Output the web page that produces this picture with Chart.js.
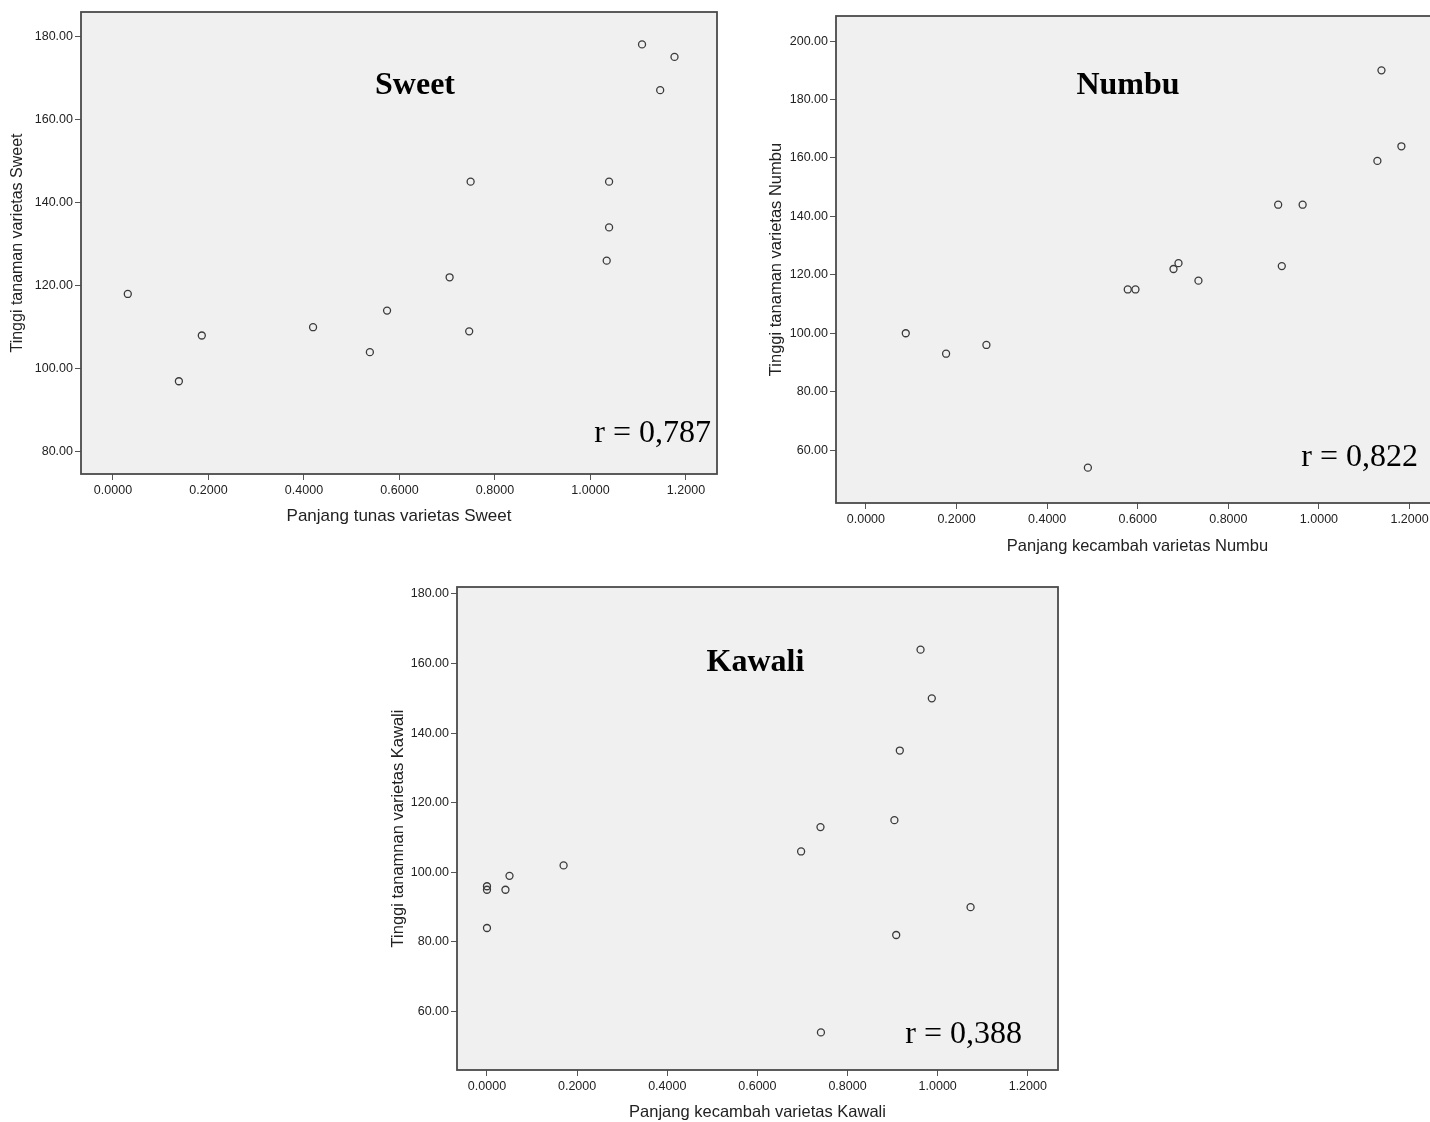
<!DOCTYPE html>
<html>
<head>
<meta charset="utf-8">
<script src="https://cdn.jsdelivr.net/npm/chart.js@4.4.1/dist/chart.umd.min.js"></script>
<style>
  html, body { margin:0; padding:0; background:#fff; width:1430px; height:1122px; overflow:hidden; position:relative; }
  canvas { position:absolute; }
</style>
</head>
<body>
<canvas id="cSweet"></canvas>
<canvas id="cNumbu"></canvas>
<canvas id="cKawali"></canvas>
<script>
// ── Data ───────────────────────────────────────────────────────────────────
const xTicks = [0, 0.2, 0.4, 0.6, 0.8, 1.0, 1.2];

// Sweet
const sweetX = [0.031, 0.138, 0.186, 0.419, 0.538, 0.574, 0.705, 0.746, 0.749, 1.039, 1.039, 1.034, 1.108, 1.176, 1.146];
const sweetY = [118, 97, 108, 110, 104, 114, 122, 109, 145, 145, 134, 126, 178, 175, 167];
const sweetYTicks = [80, 100, 120, 140, 160, 180];

// Numbu
const numbuX = [0.088, 0.177, 0.266, 0.490, 0.578, 0.595, 0.679, 0.690, 0.734, 0.910, 0.964, 0.918, 1.129, 1.182, 1.138];
const numbuY = [100, 93, 96, 54, 115, 115, 122, 124, 118, 144, 144, 123, 159, 164, 190];
const numbuYTicks = [60, 80, 100, 120, 140, 160, 180, 200];

// Kawali
const kawaliX = [0, 0, 0, 0.041, 0.050, 0.170, 0.962, 0.987, 0.916, 0.904, 0.740, 0.697, 1.073, 0.908, 0.741];
const kawaliY = [96, 95, 84, 95, 99, 102, 164, 150, 135, 115, 113, 106, 90, 82, 54];
const kawaliYTicks = [60, 80, 100, 120, 140, 160, 180];

// ── Style ──────────────────────────────────────────────────────────────────
const FRAME_BG = '#f0f0f0', FRAME_LINE = '#4a4a4a', INK = '#222', TICK = '#555';
const SANS = "'Liberation Sans', Arial, sans-serif";
const SERIF = "'Liberation Serif', 'Times New Roman', serif";
const Y_W = 78, X_H = 62, PAD_T = 6, PAD_R = 12;

// background + frame + in-plot texts
const framePlugin = {
  id: 'frame',
  beforeDraw(chart) {
    const {ctx, chartArea:a} = chart;
    ctx.save();
    ctx.fillStyle = FRAME_BG;
    ctx.fillRect(a.left, a.top, a.right - a.left, a.bottom - a.top);
    ctx.restore();
  },
  beforeDatasetsDraw(chart) {
    const {ctx, chartArea:a} = chart;
    ctx.save();
    ctx.strokeStyle = FRAME_LINE; ctx.lineWidth = 1.8;
    ctx.strokeRect(a.left, a.top, a.right - a.left, a.bottom - a.top);
    ctx.restore();
  },
  afterDatasetsDraw(chart, args, o) {
    const {ctx, chartArea:a} = chart;
    ctx.save();
    ctx.fillStyle = '#000';
    ctx.textBaseline = 'alphabetic';
    ctx.font = `bold 32px ${SERIF}`;
    ctx.textAlign = 'center';
    ctx.fillText(o.label, a.left + o.labelPos[0], a.top + o.labelPos[1]);
    ctx.font = `32px ${SERIF}`;
    ctx.textAlign = 'right';
    ctx.fillText(o.rText, a.left + o.rPos[0], a.top + o.rPos[1]);
    ctx.restore();
  }
};

// keep the plot frame exactly where the layout puts it
const noPad = sc => { sc.paddingTop = 0; sc.paddingBottom = 0; sc.paddingLeft = 0; sc.paddingRight = 0; };

function makeChart(id, c) {
  const el = document.getElementById(id);
  const left = c.frame.L - Y_W, top = c.frame.T - PAD_T;
  const w = c.frame.R - c.frame.L + Y_W + PAD_R;
  const h = c.frame.B - c.frame.T + PAD_T + X_H;
  el.style.left = left + 'px'; el.style.top = top + 'px';
  el.width = w; el.height = h;
  el.style.width = w + 'px'; el.style.height = h + 'px';
  const yPad = c.yTitleX - left - c.yTitleSize * 0.6;
  const xPad = (c.frame.B + X_H) - c.xTitleY - c.xTitleSize * 0.6;
  const pts = c.xs.map((x, i) => ({x, y: c.ys[i]}));

  return new Chart(el, {
    type: 'scatter',
    data: { datasets: [{ data: pts, pointRadius: 3.5, pointHoverRadius: 3.5,
      pointBorderWidth: 1.3, borderColor: '#3a3a3a', backgroundColor: 'rgba(0,0,0,0)' }] },
    options: {
      responsive: false, animation: false, devicePixelRatio: 1,
      layout: { padding: { top: PAD_T, right: PAD_R, bottom: 0, left: 0 } },
      plugins: {
        legend: { display: false }, tooltip: { enabled: false },
        frame: { label: c.label, labelPos: c.labelPos, rText: c.rText, rPos: c.rPos },
      },
      scales: {
        x: {
          type: 'linear', min: c.xRange[0], max: c.xRange[1],
          afterBuildTicks: sc => { sc.ticks = xTicks.map(v => ({value: v})); },
          afterFit: sc => { sc.height = X_H; noPad(sc); },
          grid: { drawOnChartArea: false, drawTicks: true, tickLength: 6, tickColor: TICK, tickWidth: 1 },
          border: { display: false },
          ticks: { autoSkip: false, maxRotation: 0, padding: 3, color: INK,
            font: { family: SANS, size: 12.5 }, callback: v => Number(v).toFixed(4) },
          title: { display: true, text: c.xTitle, color: INK,
            font: { family: SANS, size: c.xTitleSize }, padding: { top: 0, bottom: xPad } },
        },
        y: {
          type: 'linear', min: c.yRange[0], max: c.yRange[1],
          afterBuildTicks: sc => { sc.ticks = c.yTicks.map(v => ({value: v})); },
          afterFit: sc => { sc.width = Y_W; noPad(sc); },
          grid: { drawOnChartArea: false, drawTicks: true, tickLength: 6, tickColor: TICK, tickWidth: 1 },
          border: { display: false },
          ticks: { autoSkip: false, padding: 2, color: INK,
            font: { family: SANS, size: 12.5 }, callback: v => Number(v).toFixed(2) },
          title: { display: true, text: c.yTitle, color: INK,
            font: { family: SANS, size: c.yTitleSize }, padding: { top: yPad, bottom: 0 } },
        },
      },
    },
    plugins: [framePlugin],
  });
}

makeChart('cSweet', {
  frame: {L: 81, T: 12, R: 717, B: 474},
  xs: sweetX, ys: sweetY, yTicks: sweetYTicks,
  xRange: [-0.067, 1.265], yRange: [74.7, 185.8],
  xTitle: 'Panjang tunas varietas Sweet', yTitle: 'Tinggi tanaman varietas Sweet',
  xTitleSize: 17, yTitleSize: 16, yTitleX: 17.5, xTitleY: 516,
  label: 'Sweet', labelPos: [334, 81.5], rText: 'r = 0,787', rPos: [630, 430],
});

makeChart('cNumbu', {
  frame: {L: 836, T: 16, R: 1439, B: 503},
  xs: numbuX, ys: numbuY, yTicks: numbuYTicks,
  xRange: [-0.066, 1.265], yRange: [41.9, 208.6],
  xTitle: 'Panjang kecambah varietas Numbu', yTitle: 'Tinggi tanaman varietas Numbu',
  xTitleSize: 16.5, yTitleSize: 16.5, yTitleX: 776.7, xTitleY: 546,
  label: 'Numbu', labelPos: [292, 78], rText: 'r = 0,822', rPos: [582, 450],
});

makeChart('cKawali', {
  frame: {L: 457, T: 587, R: 1058, B: 1070},
  xs: kawaliX, ys: kawaliY, yTicks: kawaliYTicks,
  xRange: [-0.0665, 1.267], yRange: [43.2, 182],
  xTitle: 'Panjang kecambah varietas Kawali', yTitle: 'Tinggi tanamnan varietas Kawali',
  xTitleSize: 16.5, yTitleSize: 16.5, yTitleX: 398.3, xTitleY: 1112,
  label: 'Kawali', labelPos: [298.5, 84], rText: 'r = 0,388', rPos: [565, 456],
});
</script>
</body>
</html>
